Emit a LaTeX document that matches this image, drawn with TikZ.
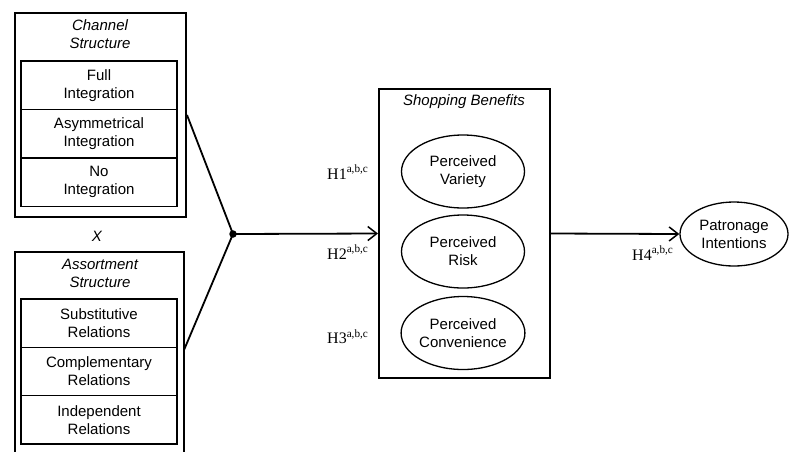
\documentclass[tikz,border=0pt]{standalone}
\usepackage{fontspec}
\setmainfont{Liberation Sans}
\newfontfamily\timesf{Liberation Serif}
\usetikzlibrary{arrows.meta,shapes.geometric}
\begin{document}
\begin{tikzpicture}[x=1pt,y=-1pt,
  txt/.style={font=\fontsize{15}{18}\selectfont},
  ttl/.style={font=\fontsize{15}{18}\selectfont\itshape,align=center,inner sep=0pt},
  outerbox/.style={draw,line width=2pt,inner sep=0pt},
  cell/.style={txt,draw,line width=1.3pt,minimum width=156pt,minimum height=48.5pt,inner sep=0pt,align=center},
  oval/.style={txt,draw,ellipse,line width=1.3pt,minimum width=123pt,minimum height=73pt,inner sep=0pt,align=center},
  hlab/.style={font=\timesf\fontsize{16}{18}\selectfont,anchor=west,inner sep=0pt},
  conn/.style={line width=1.8pt},
  arr/.style={conn,-{Straight Barb[length=9pt,width=14pt,line width=1.5pt]}}
]
\useasboundingbox (0,0) rectangle (795,451);
\fill[white] (0,0) rectangle (795,451);
% Channel structure
\node[outerbox,minimum width=171pt,minimum height=204pt] (ch) at (100.5,115) {};
\node[ttl] (cht) at (100,34.5) {Channel\\Structure};
\node[cell] (c1) at (99,85.3) {Full\\Integration};
\node[cell] (c2) at (99,133.8) {Asymmetrical\\Integration};
\node[cell] (c3) at (99,182.3) {No\\Integration};
% X
\node[ttl] (x) at (97,236) {X};
% Assortment structure (bottom edge lies below the picture)
\node[outerbox,minimum width=169pt,minimum height=212pt] (as) at (99.5,358) {};
\coordinate (aj) at (184,350);
\node[ttl] (ast) at (100,273) {Assortment\\Structure};
\node[cell] (a1) at (99,323.2) {Substitutive\\Relations};
\node[cell] (a2) at (99,371.5) {Complementary\\Relations};
\node[cell] (a3) at (99,419.8) {Independent\\Relations};
% junction
\node[circle,fill=black,inner sep=0pt,minimum size=7.5pt] (dot) at (233,234) {};
% Shopping benefits
\node[outerbox,minimum width=171pt,minimum height=289pt] (sb) at (464.5,233.5) {};
\node[ttl] (sbt) at (464,102) {Shopping Benefits};
\node[oval] (pv) at (463,171.5) {Perceived\\Variety};
\node[oval] (pr) at (463,251.5) {Perceived\\Risk};
\node[oval] (pc) at (463,333) {Perceived\\Convenience};
% Patronage
\node[oval,minimum width=108pt,minimum height=64pt] (pi) at (734,234) {Patronage\\Intentions};
% connectors
\draw[conn] (ch.east) -- (dot.center);
\draw[conn] (aj) -- (dot.center);
\draw[arr] (dot.center) -- (sb.west);
\draw[arr] (sb.east) -- (pi.west);
% labels
\node[hlab] (h1) at (327,172) {H1\textsuperscript{a,b,c}};
\node[hlab] (h2) at (327,252) {H2\textsuperscript{a,b,c}};
\node[hlab] (h3) at (327,337) {H3\textsuperscript{a,b,c}};
\node[hlab] (h4) at (632,253) {H4\textsuperscript{a,b,c}};
\end{tikzpicture}
\end{document}
